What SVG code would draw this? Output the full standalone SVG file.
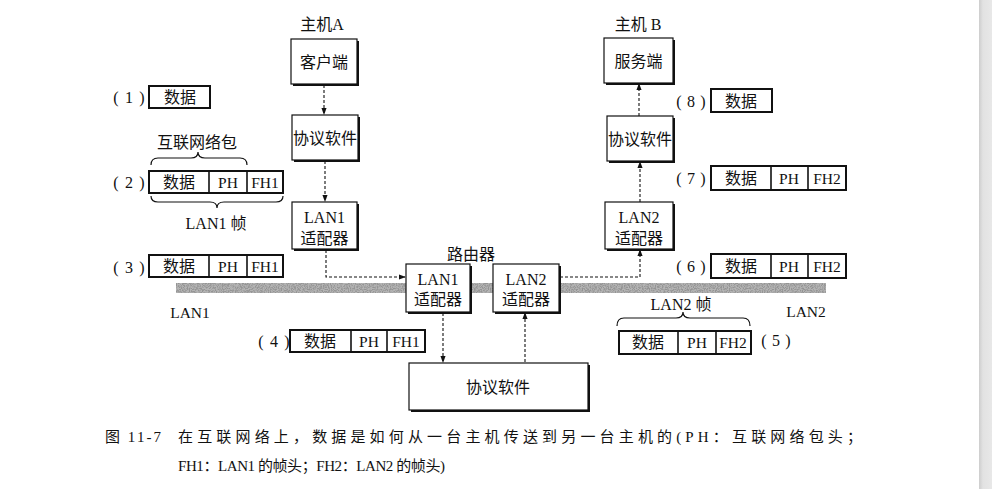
<svg xmlns="http://www.w3.org/2000/svg" width="992" height="489" viewBox="0 0 992 489">
<style>
text{font-family:"Liberation Serif","Noto Sans CJK SC",serif;fill:#111;dominant-baseline:central;text-anchor:middle}
.t16{font-size:16px}
.t15{font-size:15.5px}
.num{font-size:16px}
.box{fill:#fff;stroke:#111;stroke-width:1.2}
.shd{fill:#111}
.pkt{fill:#fff;stroke:#111;stroke-width:2}
.div{stroke:#111;stroke-width:1.6}
.dash{fill:none;stroke:#111;stroke-width:1.1;stroke-dasharray:3 2}
.brace{fill:none;stroke:#111;stroke-width:1.2}
.cap{font-size:15px;text-anchor:start}
</style>
<defs>
<marker id="ah" viewBox="0 0 8 8" refX="7" refY="4" markerWidth="7" markerHeight="7" markerUnits="userSpaceOnUse" orient="auto">
<path d="M0,1 L8,4 L0,7 Z" fill="#111"/>
</marker>
<filter id="speck" x="0" y="0" width="100%" height="100%">
<feTurbulence type="fractalNoise" baseFrequency="0.85" numOctaves="2" seed="4" result="n"/>
<feColorMatrix in="n" type="matrix" values="0 0 0 0 0.3 0 0 0 0 0.3 0 0 0 0 0.3 0 0 0 4 -1.6" result="s"/>
<feComposite in="s" in2="SourceGraphic" operator="in"/>
</filter>
<linearGradient id="edge" x1="0" y1="0" x2="1" y2="0">
<stop offset="0" stop-color="#cdcdcd"/>
<stop offset="0.3" stop-color="#e2e2e2"/>
<stop offset="1" stop-color="#e8e8e8"/>
</linearGradient>
</defs>
<rect x="0" y="0" width="992" height="489" fill="#fff"/>
<rect x="979" y="0" width="13" height="489" fill="url(#edge)"/>

<!-- LAN band -->
<g id="band">
<rect x="176" y="283" width="650" height="10" fill="#b4b4b4"/>
<rect x="176" y="283" width="650" height="10" fill="#000" filter="url(#speck)"/>
</g>

<text class="t16" x="322" y="24">主机A</text>
<text class="t16" x="638" y="24">主机 B</text>
<text class="t16" x="471" y="254">路由器</text>
<text class="t15" x="190" y="312">LAN1</text>
<text class="t15" x="806" y="311">LAN2</text>

<!-- connectors -->
<g id="connectors">
<path class="dash" d="M324,85 V114" marker-end="url(#ah)"/>
<path class="dash" d="M325,161 V201" marker-end="url(#ah)"/>
<path class="dash" d="M326,250 V277 H405" marker-end="url(#ah)"/>
<path class="dash" d="M443,313 V362" marker-end="url(#ah)"/>
<path class="dash" d="M525,362 V313" marker-end="url(#ah)"/>
<path class="dash" d="M560,277 H640 V250" marker-end="url(#ah)"/>
<path class="dash" d="M640,202 V162" marker-end="url(#ah)"/>
<path class="dash" d="M639,116 V84" marker-end="url(#ah)"/>
</g>

<!-- host A -->
<g id="clientA">
<rect class="shd" x="293" y="41" width="66" height="45"/>
<rect class="box" x="291" y="39" width="66" height="45"/>
<text class="t16" x="324" y="62">客户端</text>
</g>
<g id="protoA">
<rect class="shd" x="294" y="117" width="66" height="45"/>
<rect class="box" x="292" y="115" width="66" height="45"/>
<text class="t16" x="325" y="138">协议软件</text>
</g>
<g id="lan1A">
<rect class="shd" x="294" y="204" width="65" height="47"/>
<rect class="box" x="292" y="202" width="65" height="47"/>
<text class="t16" x="324.5" y="217">LAN1</text>
<text class="t16" x="324.5" y="238">适配器</text>
</g>

<!-- router -->
<g id="routerLan1">
<rect class="shd" x="408" y="266" width="64" height="48"/>
<rect class="box" x="406" y="264" width="64" height="48"/>
<text class="t16" x="438" y="279">LAN1</text>
<text class="t16" x="438" y="299">适配器</text>
</g>
<g id="routerLan2">
<rect class="shd" x="495" y="266" width="66" height="48"/>
<rect class="box" x="493" y="264" width="66" height="48"/>
<text class="t16" x="526" y="279">LAN2</text>
<text class="t16" x="526" y="299">适配器</text>
</g>
<g id="routerProto">
<rect class="shd" x="411" y="365" width="179" height="47"/>
<rect class="box" x="409" y="363" width="179" height="47"/>
<text class="t16" x="498" y="387">协议软件</text>
</g>

<!-- host B -->
<g id="serverB">
<rect class="shd" x="606" y="40" width="69" height="45"/>
<rect class="box" x="604" y="38" width="69" height="45"/>
<text class="t16" x="638.5" y="61">服务端</text>
</g>
<g id="protoB">
<rect class="shd" x="609" y="118" width="66" height="45"/>
<rect class="box" x="607" y="116" width="66" height="45"/>
<text class="t16" x="640" y="139">协议软件</text>
</g>
<g id="lan2B">
<rect class="shd" x="607" y="204" width="68" height="47"/>
<rect class="box" x="605" y="202" width="68" height="47"/>
<text class="t16" x="639" y="217">LAN2</text>
<text class="t16" x="639" y="238">适配器</text>
</g>

<!-- packets -->
<g id="p1">
<text class="num" x="116 129 142" y="97">(1)</text>
<rect class="pkt" x="149" y="86" width="61" height="22"/>
<text class="t16" x="180" y="97">数据</text>
</g>
<g id="p2">
<text class="t16" x="197" y="142">互联网络包</text>
<path class="brace" d="M151,165 Q151,158 158,158 L191,158 Q198,158 198,152 Q198,158 205,158 L240,158 Q247,158 247,165"/>
<text class="num" x="116 129 142" y="182">(2)</text>
<rect class="pkt" x="149" y="171" width="134" height="22"/>
<line class="div" x1="209" y1="171" x2="209" y2="193"/>
<line class="div" x1="247" y1="171" x2="247" y2="193"/>
<text class="t16" x="179" y="182">数据</text>
<text class="t15" x="228" y="182">PH</text>
<text class="t15" x="265" y="182">FH1</text>
<path class="brace" d="M151,196 Q151,202 158,202 L210,202 Q217,202 217,208 Q217,202 224,202 L276,202 Q283,202 283,196"/>
<text class="t16" x="216" y="223">LAN1 帧</text>
</g>
<g id="p3">
<text class="num" x="116 129 142" y="267">(3)</text>
<rect class="pkt" x="149" y="255" width="134" height="22"/>
<line class="div" x1="209" y1="255" x2="209" y2="277"/>
<line class="div" x1="247" y1="255" x2="247" y2="277"/>
<text class="t16" x="179" y="266">数据</text>
<text class="t15" x="228" y="266">PH</text>
<text class="t15" x="265" y="266">FH1</text>
</g>
<g id="p4">
<text class="num" x="261 274 287" y="341">(4)</text>
<rect class="pkt" x="290" y="330" width="135" height="22"/>
<line class="div" x1="351" y1="330" x2="351" y2="352"/>
<line class="div" x1="387" y1="330" x2="387" y2="352"/>
<text class="t16" x="320" y="341">数据</text>
<text class="t15" x="369" y="341">PH</text>
<text class="t15" x="406" y="341">FH1</text>
</g>
<g id="p5">
<text class="t16" x="681" y="304">LAN2 帧</text>
<path class="brace" d="M617,326 Q617,318 624,318 L676,318 Q683,318 683,312 Q683,318 690,318 L743,318 Q750,318 750,326"/>
<rect class="pkt" x="619" y="331" width="132" height="23"/>
<line class="div" x1="678" y1="331" x2="678" y2="354"/>
<line class="div" x1="716" y1="331" x2="716" y2="354"/>
<text class="t16" x="648" y="342">数据</text>
<text class="t15" x="697" y="342">PH</text>
<text class="t15" x="733" y="342">FH2</text>
<text class="num" x="764 776 788" y="340">(5)</text>
</g>
<g id="p6">
<text class="num" x="679 691 703" y="266">(6)</text>
<rect class="pkt" x="711" y="254" width="135" height="24"/>
<line class="div" x1="771" y1="254" x2="771" y2="278"/>
<line class="div" x1="808" y1="254" x2="808" y2="278"/>
<text class="t16" x="741" y="266">数据</text>
<text class="t15" x="789" y="266">PH</text>
<text class="t15" x="827" y="266">FH2</text>
</g>
<g id="p7">
<text class="num" x="679 691 703" y="178">(7)</text>
<rect class="pkt" x="711" y="166" width="135" height="24"/>
<line class="div" x1="771" y1="166" x2="771" y2="190"/>
<line class="div" x1="808" y1="166" x2="808" y2="190"/>
<text class="t16" x="741" y="178">数据</text>
<text class="t15" x="789" y="178">PH</text>
<text class="t15" x="827" y="178">FH2</text>
</g>
<g id="p8">
<text class="num" x="679 691 703" y="101">(8)</text>
<rect class="pkt" x="711" y="89" width="61" height="23"/>
<text class="t16" x="741" y="101">数据</text>
</g>

<!-- caption -->
<g id="caption">
<text class="cap" x="105" y="437" textLength="56" lengthAdjust="spacing">图 11-7</text>
<text class="cap" x="178" y="437" textLength="684" lengthAdjust="spacing">在互联网络上，数据是如何从一台主机传送到另一台主机的(PH：互联网络包头；</text>
<text class="cap" x="178" y="466" textLength="267" lengthAdjust="spacing">FH1：LAN1 的帧头；FH2：LAN2 的帧头)</text>
</g>
</svg>
